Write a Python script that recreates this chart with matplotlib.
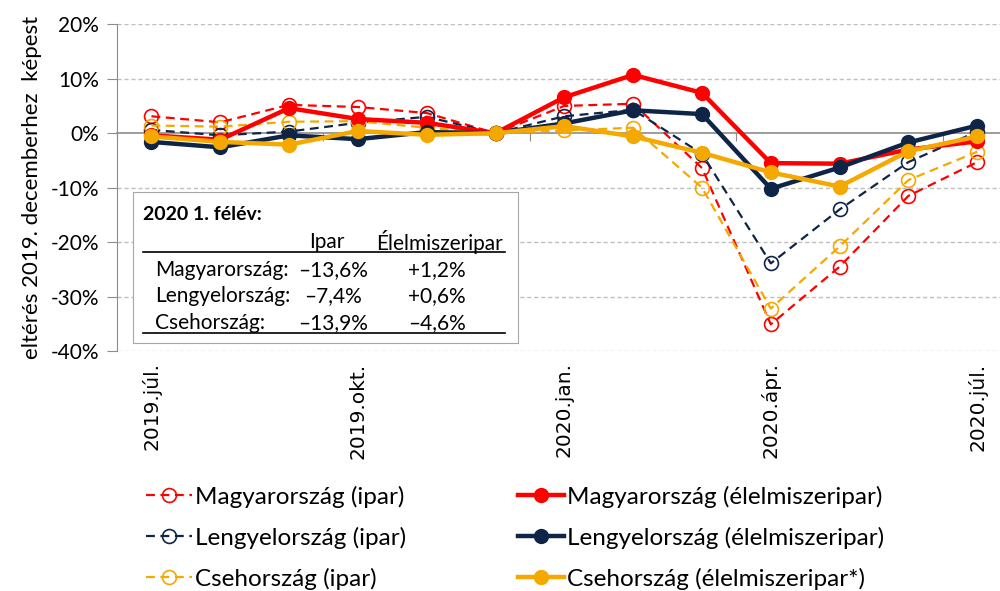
import matplotlib
matplotlib.use("Agg")
import matplotlib.pyplot as plt
from matplotlib.ticker import FuncFormatter
from matplotlib.transforms import blended_transform_factory

plt.rcParams['font.family'] = ['Lato', 'DejaVu Sans']

# havi adatok, 2019 júl. - 2020 júl. (eltérés 2019. decemberhez képest, %)
honapok = list(range(13))
cimke_pozicio = [0, 3, 6, 9, 12]
cimkek = ["2019.júl.", "2019.okt.", "2020.jan.", "2020.ápr.", "2020.júl."]

hu_ipar = [3.1, 2.0, 5.2, 4.8, 3.7, 0, 5.0, 5.4, -6.4, -35.1, -24.5, -11.5, -5.3]
pl_ipar = [0.6, -0.4, 0.3, 1.9, 3.0, 0, 3.1, 4.3, -3.8, -23.9, -14.0, -5.3, 0.3]
cz_ipar = [1.4, 1.2, 2.1, 2.2, 1.0, 0, 0.5, 1.0, -10.0, -32.2, -20.8, -8.6, -3.4]
hu_elelm = [-0.4, -1.2, 4.6, 2.6, 1.9, 0, 6.6, 10.7, 7.4, -5.5, -5.6, -3.0, -1.5]
pl_elelm = [-1.6, -2.6, -0.4, -1.1, 0.2, 0, 1.8, 4.2, 3.5, -10.2, -6.3, -1.7, 1.4]
cz_elelm = [-0.6, -1.6, -2.1, 0.4, -0.3, 0, 1.3, -0.6, -3.6, -7.2, -9.8, -3.3, -0.6]

# a táblázat a dobozban
orszagok = ["Magyarország:", "Lengyelország:", "Csehország:"]
felev_ipar = ["–13,6%", "–7,4%", "–13,9%"]
felev_elelm = ["+1,2%", "+0,6%", "–4,6%"]

piros = "#FF0000"
sotetkek = "#0F2548"
narancs = "#F5A800"

fig = plt.figure(figsize=(10, 5.91), dpi=100)
ax = fig.add_axes([0.117, 0.406, 0.883, 0.553])

# szaggatott vonalak (ipar)
for adat, szin, nev in [(hu_ipar, piros, "Magyarország (ipar)"),
                        (pl_ipar, sotetkek, "Lengyelország (ipar)"),
                        (cz_ipar, narancs, "Csehország (ipar)")]:
    ax.plot(honapok, adat, color=szin, lw=1.6, ls=(0, (4, 2.5)), marker='o',
            ms=10, mfc='none', mec=szin, mew=1.2, label=nev, zorder=3)

# folytonos vonalak (élelmiszeripar)
for adat, szin, nev in [(hu_elelm, piros, "Magyarország (élelmiszeripar)"),
                        (pl_elelm, sotetkek, "Lengyelország (élelmiszeripar)"),
                        (cz_elelm, narancs, "Csehország (élelmiszeripar*)")]:
    ax.plot(honapok, adat, color=szin, lw=3.2, marker='o', ms=10,
            mfc=szin, mec=szin, label=nev, zorder=4)

ax.set_ylim(-40, 20)
ax.set_xlim(-0.5, 12.33)
ax.set_yticks(range(-40, 21, 10))
ax.yaxis.set_major_formatter(FuncFormatter(lambda v, p: f"{v:.0f}%"))
ax.tick_params(axis='y', labelsize=15, length=7, color="#8C8C8C", pad=6)
for y in [-40, -30, -20, -10, 10, 20]:
    ax.axhline(y, color="#BFBFBF", lw=1, ls=(0, (3, 2)), zorder=1)

for s in ['top', 'right']:
    ax.spines[s].set_visible(False)
ax.spines['left'].set_color("#8C8C8C")
ax.spines['bottom'].set_position(('data', 0))
ax.spines['bottom'].set_color("#8C8C8C")
ax.spines['bottom'].set_linewidth(1.2)

ax.set_xticks([-0.5, 2.5, 5.5, 8.5, 11.5])
ax.set_xticklabels([])
ax.tick_params(axis='x', direction='out', length=6, color="#8C8C8C")

tr = blended_transform_factory(ax.transData, ax.transAxes)
for poz, c in zip(cimke_pozicio, cimkek):
    ax.text(poz, -0.035, c, transform=tr, rotation=90, ha='center', va='top',
            fontsize=14.5, family='DejaVu Sans')

ax.set_ylabel("eltérés 2019. decemberhez  képest", fontsize=16, labelpad=6)

# doboz a féléves adatokkal
box = fig.add_axes([0.133, 0.4196, 0.385, 0.2555])
box.set_xlim(0, 1)
box.set_ylim(0, 1)
box.set_xticks([])
box.set_yticks([])
for s in box.spines.values():
    s.set_color("#A6A6A6")
box.text(0.026, 0.848, "2020 1. félév:", fontsize=14, fontweight='bold', va='center')
box.text(0.504, 0.669, "Ipar", fontsize=15, ha='center', va='center')
box.text(0.797, 0.669, "Élelmiszeripar", fontsize=15, ha='center', va='center')
box.plot([0.026, 0.966], [0.603, 0.603], color='black', lw=1.2)
box.plot([0.026, 0.966], [0.066, 0.066], color='black', lw=1.2)
for i, y in enumerate([0.483, 0.311, 0.132]):
    box.text(0.057, y, orszagok[i], fontsize=15, va='center')
    box.text(0.519, y, felev_ipar[i], fontsize=15, ha='center', va='center')
    box.text(0.79, y, felev_elelm[i], fontsize=15, ha='center', va='center')

fig.legend(loc='upper left', bbox_to_anchor=(0.146, 0.178), ncol=2, frameon=False,
           fontsize=17.5, handlelength=1.9, handletextpad=0.12, columnspacing=4.6,
           labelspacing=0.78, borderaxespad=0, borderpad=0)

fig.savefig("out.png", dpi=100)
